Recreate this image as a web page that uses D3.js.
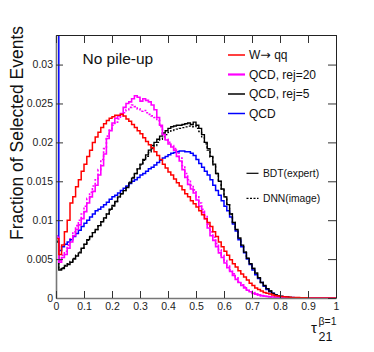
<!DOCTYPE html>
<html><head><meta charset="utf-8">
<script src="https://cdn.jsdelivr.net/npm/d3@7"></script>
<style>
html,body{margin:0;padding:0;background:#fff;}
svg{display:block;font-family:"Liberation Sans",Arial,sans-serif;}
</style></head>
<body><svg id="c" width="374" height="352"></svg>
<script>
// bin lower edges: 100 bins of width 0.01 on [0,1]
const binWidth = 0.01;
const nBins = 100;

const wqq = [0.0076,0.0056,0.0068,0.0085,0.0100,0.0122,0.0130,0.0143,0.0152,0.0163,
0.0172,0.0182,0.0190,0.0200,0.0207,0.0213,0.0219,0.0224,0.0228,0.0231,
0.0233,0.0235,0.0235,0.0236,0.0234,0.0230,0.0227,0.0223,0.0219,0.0215,
0.0211,0.0206,0.0201,0.0197,0.0193,0.0188,0.0183,0.0178,0.0172,0.0167,
0.0162,0.0158,0.0153,0.0148,0.0144,0.0139,0.0134,0.0130,0.0125,0.0121,
0.0117,0.0112,0.0107,0.0102,0.0097,0.0092,0.0085,0.0079,0.0072,0.0066,
0.0060,0.0055,0.0049,0.0044,0.0040,0.0035,0.0031,0.0027,0.0023,0.0019,
0.0016,0.0013,0.0011,0.0009,0.0007,0.0006,0.0005,0.0004,0.0003,0.00025,
0.0002,0.00016,0.00013,0.0001,0.00008,0.00006,0.00005,0.00004,0.00003,0.00002,
0.00001,0.00001,0.00001,0.00001,0.00001,0.00001,0.00001,0.00001,0.00001,0.00001];

const qcdRej20Bdt = [0.0078,0.0046,0.0052,0.0056,0.0064,0.0072,0.0080,0.0088,0.0094,0.0102,
0.0111,0.0122,0.0130,0.0137,0.0145,0.0158,0.0170,0.0185,0.0205,0.0215,
0.0225,0.0231,0.0234,0.0237,0.0245,0.0250,0.0252,0.0256,0.0260,0.0258,
0.0253,0.0256,0.0254,0.0252,0.0248,0.0242,0.0232,0.0222,0.0210,0.0203,
0.0198,0.0194,0.0190,0.0182,0.0176,0.0165,0.0155,0.0146,0.0140,0.0135,
0.0126,0.0118,0.0110,0.0102,0.0090,0.0080,0.0074,0.0066,0.0058,0.0052,
0.0045,0.0039,0.0034,0.0029,0.0024,0.0020,0.0016,0.0013,0.0010,0.0008,
0.0006,0.0005,0.0004,0.0003,0.00025,0.0002,0.00015,0.00012,0.0001,0.00008,
0.00006,0.00005,0.00004,0.00003,0.00002,0.00001,0.00001,0.00001,0.00001,0.00001,
0.00001,0.00001,0.00001,0.00001,0.00001,0.00001,0.00001,0.00001,0.00001,0.00001];

const qcdRej20Dnn = [0.0080,0.0048,0.0055,0.0060,0.0068,0.0076,0.0085,0.0093,0.0100,0.0108,
0.0118,0.0128,0.0136,0.0144,0.0152,0.0165,0.0178,0.0192,0.0208,0.0216,
0.0222,0.0226,0.0230,0.0234,0.0238,0.0242,0.0245,0.0248,0.0246,0.0243,
0.0240,0.0241,0.0238,0.0236,0.0234,0.0232,0.0228,0.0220,0.0210,0.0204,
0.0200,0.0196,0.0192,0.0186,0.0180,0.0170,0.0160,0.0152,0.0145,0.0139,
0.0130,0.0122,0.0114,0.0106,0.0095,0.0085,0.0078,0.0070,0.0062,0.0055,
0.0048,0.0041,0.0036,0.0031,0.0026,0.0021,0.0017,0.0014,0.0011,0.0009,
0.0007,0.0005,0.0004,0.0003,0.00025,0.0002,0.00015,0.00012,0.0001,0.00008,
0.00006,0.00005,0.00004,0.00003,0.00002,0.00001,0.00001,0.00001,0.00001,0.00001,
0.00001,0.00001,0.00001,0.00001,0.00001,0.00001,0.00001,0.00001,0.00001,0.00001];

const qcdRej5Bdt = [0.0072,0.0036,0.0038,0.0041,0.0043,0.0046,0.0050,0.0054,0.0058,0.0064,
0.0069,0.0075,0.0079,0.0084,0.0088,0.0093,0.0098,0.0103,0.0108,0.0114,
0.0119,0.0124,0.0130,0.0134,0.0138,0.0142,0.0148,0.0154,0.0160,0.0166,
0.0172,0.0178,0.0184,0.0190,0.0196,0.0200,0.0204,0.0208,0.0212,0.0215,
0.0218,0.0220,0.0221,0.0222,0.0222,0.0223,0.0224,0.0225,0.0223,0.0226,
0.0222,0.0218,0.0210,0.0200,0.0192,0.0182,0.0172,0.0160,0.0150,0.0140,
0.0130,0.0120,0.0108,0.0097,0.0088,0.0077,0.0068,0.0059,0.0051,0.0044,
0.0038,0.0032,0.0026,0.0020,0.0016,0.0012,0.0009,0.0006,0.0004,0.0003,
0.0002,0.00015,0.0001,0.00007,0.00005,0.00003,0.00002,0.00001,0.00001,0.00001,
0.00001,0.00001,0.00001,0.00001,0.00001,0.00001,0.00001,0.00001,0.00001,0.00001];

const qcdRej5Dnn = [0.0073,0.0037,0.0039,0.0042,0.0044,0.0047,0.0051,0.0055,0.0059,0.0064,
0.0069,0.0074,0.0079,0.0084,0.0088,0.0093,0.0098,0.0103,0.0108,0.0113,
0.0118,0.0124,0.0129,0.0134,0.0138,0.0143,0.0149,0.0155,0.0160,0.0166,
0.0171,0.0177,0.0182,0.0187,0.0192,0.0196,0.0200,0.0204,0.0207,0.0210,
0.0213,0.0215,0.0216,0.0217,0.0218,0.0219,0.0220,0.0221,0.0220,0.0221,
0.0218,0.0214,0.0207,0.0198,0.0190,0.0181,0.0171,0.0160,0.0150,0.0140,
0.0130,0.0120,0.0108,0.0097,0.0088,0.0077,0.0068,0.0059,0.0051,0.0044,
0.0038,0.0032,0.0026,0.0020,0.0016,0.0012,0.0009,0.0006,0.0004,0.0003,
0.0002,0.00015,0.0001,0.00007,0.00005,0.00003,0.00002,0.00001,0.00001,0.00001,
0.00001,0.00001,0.00001,0.00001,0.00001,0.00001,0.00001,0.00001,0.00001,0.00001];

const qcd = [0.0500,0.0061,0.0066,0.0069,0.0072,0.0075,0.0079,0.0083,0.0087,0.0092,
0.0096,0.0100,0.0104,0.0108,0.0112,0.0114,0.0117,0.0120,0.0123,0.0127,
0.0130,0.0132,0.0135,0.0138,0.0141,0.0144,0.0147,0.0150,0.0152,0.0155,
0.0158,0.0160,0.0163,0.0166,0.0168,0.0171,0.0174,0.0177,0.0180,0.0182,
0.0184,0.0186,0.0187,0.0188,0.0189,0.0189,0.0188,0.0188,0.0186,0.0183,
0.0178,0.0173,0.0168,0.0163,0.0158,0.0152,0.0145,0.0138,0.0132,0.0125,
0.0118,0.0112,0.0104,0.0095,0.0086,0.0075,0.0066,0.0058,0.0050,0.0043,
0.0036,0.0030,0.0025,0.0020,0.0015,0.0011,0.0008,0.0006,0.0004,0.0003,
0.0002,0.00015,0.0001,0.00007,0.00005,0.00003,0.00002,0.00001,0.00001,0.00001,
0.00001,0.00001,0.00001,0.00001,0.00001,0.00001,0.00001,0.00001,0.00001,0.00001];

const yTicks = [0, 0.005, 0.01, 0.015, 0.02, 0.025, 0.03];
const xTicks = [0, 0.1, 0.2, 0.3, 0.4, 0.5, 0.6, 0.7, 0.8, 0.9, 1];
const legendLabels = [["W", "\u2192", " qq"], ["QCD, rej=20"], ["QCD, rej=5"], ["QCD"]];
const legendColors = ["#ff0000", "#ff00ff", "#000000", "#0000ff"];
const styleLabels = ["BDT(expert)", "DNN(image)"];

const svg = d3.select("#c");
const x = d3.scaleLinear().domain([0, 1]).range([56, 336]);
const y = d3.scaleLinear().domain([0, 0.0338]).range([298, 35]);

svg.append("defs").append("clipPath").attr("id", "clip")
  .append("rect").attr("x", 56).attr("y", 35).attr("width", 280).attr("height", 263);

const line = d3.line().x(d => x(d[0])).y(d => y(d[1])).curve(d3.curveStepAfter);
function pts(arr) {
  const p = arr.map((v, i) => [i * binWidth, v]);
  p.push([nBins * binWidth, arr[arr.length - 1]]);
  return p;
}
const series = [
  {d: qcdRej5Dnn, c: "#000000", dash: "2,2", w: 1.3},
  {d: qcdRej20Dnn, c: "#ff00ff", dash: "2,2", w: 1.6},
  {d: qcd, c: "#0000ff", dash: null, w: 1.5},
  {d: qcdRej5Bdt, c: "#000000", dash: null, w: 1.4},
  {d: qcdRej20Bdt, c: "#ff00ff", dash: null, w: 1.6},
  {d: wqq, c: "#ff0000", dash: null, w: 1.5}
];
const g = svg.append("g").attr("clip-path", "url(#clip)");
series.forEach(s => {
  g.append("path").attr("d", line(pts(s.d))).attr("fill", "none")
    .attr("stroke", s.c).attr("stroke-width", s.w)
    .attr("stroke-dasharray", s.dash);
});

// axes
const fmt = d => d === 0 ? "0" : String(+d.toFixed(3));
const ax = (sel) => {
  sel.selectAll("text").attr("font-family", "Liberation Sans, Arial, sans-serif")
    .attr("font-size", 10.5).attr("fill", "#222");
};
svg.append("g").attr("transform", "translate(56,0)")
  .call(d3.axisLeft(y).tickValues(yTicks).tickFormat(fmt).tickSizeInner(-7).tickSizeOuter(0).tickPadding(3))
  .call(ax).call(s => { s.select(".domain").attr("stroke", "#777").attr("stroke-width", 1.6); s.selectAll("line").attr("stroke", "#333"); });
svg.append("g").attr("transform", "translate(0,298)")
  .call(d3.axisBottom(x).tickValues(xTicks).tickFormat(d => String(+d.toFixed(1))).tickSizeInner(-7).tickSizeOuter(0).tickPadding(5))
  .call(ax).call(s => { s.select(".domain").attr("stroke", "#777").attr("stroke-width", 1.6); s.selectAll("line").attr("stroke", "#333"); });
svg.append("g").attr("transform", "translate(0,35)")
  .call(d3.axisTop(x).tickValues(xTicks).tickFormat("").tickSizeInner(-8).tickSizeOuter(0))
  .call(s => { s.select(".domain").attr("stroke", "#222"); s.selectAll("line").attr("stroke", "#333"); });
svg.append("g").attr("transform", "translate(336,0)")
  .call(d3.axisRight(y).tickValues(yTicks).tickFormat("").tickSizeInner(-8).tickSizeOuter(0))
  .call(s => { s.select(".domain").attr("stroke", "#222"); s.selectAll("line").attr("stroke", "#333"); });

// titles
svg.append("text").attr("transform", "translate(23,133) rotate(-90)")
  .attr("text-anchor", "middle").attr("font-size", 17.5).attr("fill", "#111")
  .text("Fraction of Selected Events");
svg.append("text").attr("x", 311).attr("y", 333).attr("font-size", 15).attr("fill", "#111").text("\u03c4");
svg.append("text").attr("x", 318.5).attr("y", 325).attr("font-size", 10.5).attr("fill", "#111").text("\u03b2=1");
svg.append("text").attr("x", 318.5).attr("y", 341).attr("font-size", 12.5).attr("fill", "#111").text("21");
svg.append("text").attr("x", 82.5).attr("y", 63.5).attr("font-size", 15.5).attr("fill", "#111").text("No pile-up");

// legend
const leg = svg.append("g");
legendLabels.forEach((parts, i) => {
  const yy = 55 + i * 19.5;
  leg.append("line").attr("x1", 228).attr("x2", 245).attr("y1", yy).attr("y2", yy)
    .attr("stroke", legendColors[i]).attr("stroke-width", i === 1 ? 2.2 : 1.5);
  const t = leg.append("text").attr("x", 249).attr("y", yy + 4.3).attr("font-size", 12).attr("fill", "#111");
  parts.forEach(p => {
    const ts = t.append("tspan").text(p);
    if (p === "\u2192") ts.attr("font-family", "DejaVu Sans").attr("font-size", 12.5);
  });
});
styleLabels.forEach((t, i) => {
  const yy = 173.3 + i * 25;
  leg.append("line").attr("x1", 246.5).attr("x2", 258.5).attr("y1", yy).attr("y2", yy)
    .attr("stroke", "#000").attr("stroke-width", 1.2).attr("stroke-dasharray", i === 1 ? "2,1.5" : null);
  leg.append("text").attr("x", 263).attr("y", yy + 3.6).attr("font-size", 10.3).attr("fill", "#111").text(t);
});
</script></body></html>
